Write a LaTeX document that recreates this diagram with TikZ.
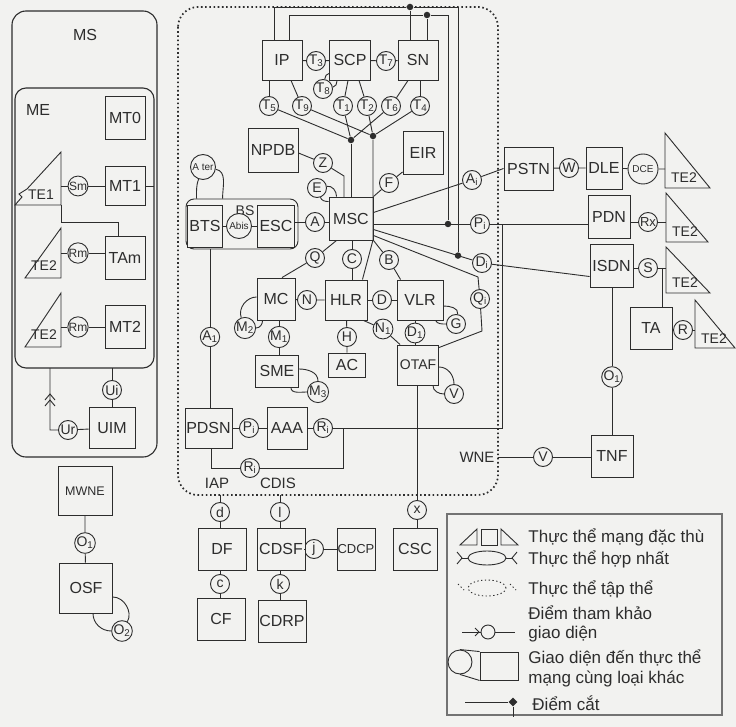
\documentclass[tikz,border=0pt]{standalone}
\usepackage{fontspec}
\setmainfont{Liberation Sans}
\usepackage{xcolor}
\usepackage{tikz}
\usetikzlibrary{positioning,shapes.geometric}
\definecolor{ink}{RGB}{45,45,45}
\definecolor{paper}{RGB}{242,242,240}

\begin{document}
\begin{tikzpicture}[
    x=1pt, y=-1pt, line width=0.9pt, color=ink,
    ent/.style={rectangle, draw, fill=paper, inner sep=0pt, font=\fontsize{16}{16}\selectfont},
    ifc/.style={circle, draw, fill=paper, inner sep=0pt, minimum size=19pt, font=\fontsize{14}{14}\selectfont},
    cutpt/.style={circle, fill, inner sep=0pt, minimum size=6.5pt},
    lbl/.style={inner sep=0pt, font=\fontsize{15}{15}\selectfont},
    tetext/.style={inner sep=0pt, font=\fontsize{14}{14}\selectfont},
    legtext/.style={anchor=west, inner sep=0pt, font=\fontsize{17}{17}\selectfont},
    grp/.style={draw, line width=1.1pt, rounded corners=14pt},
    collective/.style={draw, line width=1.7pt, dash pattern=on 1.6pt off 2.6pt, rounded corners=20pt}
  ]
    \fill[paper] (0,0) rectangle (736,727);
    \useasboundingbox (0,0) rectangle (736,727);

    % mobile station
    \draw[grp] (12,11) rectangle (157,457);
    \draw[grp, rounded corners=11pt] (15,88) rectangle (154,368);
    \node[lbl, font=\fontsize{16}{16}\selectfont] (mslbl) at (85,35) {MS};
    \node[lbl, font=\fontsize{16}{16}\selectfont] (melbl) at (38,110) {ME};

    \node[ent, minimum width=40, minimum height=43] (mt0) at (125,118) {MT0};
    \node[ent, minimum width=40, minimum height=39] (mt1) at (125,186) {MT1};
    \node[ent, minimum width=40, minimum height=43] (tam) at (125,258) {TAm};
    \node[ent, minimum width=40, minimum height=43] (mt2) at (125,327) {MT2};
    \node[ent, minimum width=46, minimum height=41] (uim) at (112,428) {UIM};

    \node[ifc, font=\fontsize{12}{12}\selectfont] (smif)  at (78,186) {Sm};
    \node[ifc, font=\fontsize{12}{12}\selectfont] (rm1if) at (78,253) {Rm};
    \node[ifc, font=\fontsize{12}{12}\selectfont] (rm2if) at (78,327) {Rm};
    \node[ifc] (uiif) at (112,390) {Ui};
    \node[ifc] (urif) at (68,430) {Ur};

    \draw (61,152) -- (61,205) -- (15,205) -- (22,197) -- (19,194) -- (27,189) -- cycle;
    \draw (61,228) -- (61,278) -- (25,278) -- cycle;
    \draw (61,293) -- (61,347) -- (25,347) -- cycle;
    \node[tetext] (te1) at (41,195) {TE1};
    \node[tetext] (te2l1) at (44,266) {TE2};
    \node[tetext] (te2l2) at (44,335) {TE2};

    \coordinate (te1p) at (61,186);
    \coordinate (te1b) at (61,205);
    \coordinate (te2l1p) at (61,253);
    \coordinate (te2l2p) at (61,327);
    \coordinate (mestub) at (154,186);
    \coordinate (mebot) at (112,368);
    \coordinate (urturn) at (50,430);
    \coordinate (mebotl) at (50,368);

    \draw (te1p) -- (smif) -- (mt1) -- (mestub);
    \draw (te1b) -- (61,222) -| ([xshift=-7pt]tam.north);
    \draw (te2l1p) -- (rm1if) -- (rm1if -| tam.west);
    \draw (te2l2p) -- (rm2if) -- (mt2);
    \draw (mebot) -- (uiif) -- (uim);
    \draw (uim) -- (urif) -- (urturn) -- (mebotl);
    \draw (45,400) -- (50,394) -- (55,400);
    \draw (45,406) -- (50,400) -- (55,406);

    \node[ent, minimum width=54, minimum height=49, font=\fontsize{12.5}{12.5}\selectfont] (mwne) at (85,491) {MWNE};
    \node[ifc] (o1mw) at (85,543) {O\textsubscript{1}};
    \node[ent, minimum width=53, minimum height=50] (osf) at (86,588) {OSF};
    \node[ifc] (o2if) at (122,631) {O\textsubscript{2}};
    \draw (mwne) -- (o1mw) -- (osf);
    \draw ([xshift=7pt]osf.south) to[out=-90,in=180] (o2if);
    \draw (o2if) to[out=60,in=0] ([yshift=-9pt]osf.east);

    % collective entity
    \draw[collective] (178,7) rectangle (498,495);

    \node[ent, minimum width=40, minimum height=40] (ip)  at (282,60) {IP};
    \node[ent, minimum width=41, minimum height=40] (scp) at (350,60) {SCP};
    \node[ent, minimum width=40, minimum height=40] (sn)  at (418,60) {SN};
    \node[ifc] (t3) at (316,61) {T\textsubscript{3}};
    \node[ifc] (t7) at (386,61) {T\textsubscript{7}};
    \node[ifc] (t8) at (323,89) {T\textsubscript{8}};
    \node[ifc] (t5) at (269,106) {T\textsubscript{5}};
    \node[ifc] (t9) at (302,106) {T\textsubscript{9}};
    \node[ifc] (t1) at (343,106) {T\textsubscript{1}};
    \node[ifc] (t2) at (367,106) {T\textsubscript{2}};
    \node[ifc] (t6) at (391,106) {T\textsubscript{6}};
    \node[ifc] (t4) at (420,106) {T\textsubscript{4}};
    \node[cutpt] (j1) at (351,140) {};
    \node[cutpt] (j2) at (373,136) {};

    \draw (ip) -- (t3) -- (scp);
    \draw (scp) -- (t7) -- (sn);
    \draw ([yshift=7pt]scp.south west) to[out=180,in=80] (t8);
    \draw (t8) to[out=10,in=-90] ([xshift=8pt]scp.south west);
    \draw (ip.south -| t5) -- (t5);
    \draw ([xshift=9pt]ip.south) -- (t9);
    \draw ([xshift=-2pt]scp.south) -- (t1);
    \draw ([xshift=9pt]scp.south) -- (t2);
    \draw ([xshift=-10pt]sn.south) -- (t6);
    \draw (sn.south -| t4) -- (t4);
    \draw (t5) -- (j1);
    \draw (t1) -- (j1);
    \draw (t6) -- (j1);
    \draw (t9) -- (j2);
    \draw (t2) -- (j2);
    \draw (t4) -- (j2);

    \node[ent, minimum width=50, minimum height=44] (npdb) at (273,150) {NPDB};
    \node[ent, minimum width=40, minimum height=43] (eir)  at (423,153) {EIR};
    \node[ent, minimum width=44, minimum height=43] (msc)  at (351,218.5) {MSC};
    \node[ifc] (zif) at (323,163) {Z};
    \node[ifc] (eif) at (317,188) {E};
    \node[ifc] (fif) at (389,183) {F};
    \node[ifc] (aif) at (315,222) {A};

    \draw (j1) -- (j1 |- msc.north);
    \draw ([yshift=-3pt]npdb.east) -- (zif) -- (344,176) -- (344,197);
    \draw ([yshift=-5pt]msc.north west) to[out=180,in=-70] (eif);
    \draw (eif) to[out=10,in=90] ([xshift=8pt]msc.north west);
    \draw ([yshift=3pt]eir.south west) -- (fif) -- (msc.north east);

    % base station
    \node[draw, rounded corners=8pt, minimum width=112, minimum height=50, inner sep=0pt] (bs) at (242,224) {};
    \node[lbl, font=\fontsize{14}{14}\selectfont] (bslbl) at (245,211) {BS};
    \node[ent, minimum width=35, minimum height=42] (bts) at (205,226) {BTS};
    \node[ent, minimum width=37, minimum height=42] (esc) at (276,226) {ESC};
    \node[ifc, minimum size=25, font=\fontsize{10}{10}\selectfont] (abis) at (239,226) {Abis};
    \node[ifc, minimum size=25, font=\fontsize{10}{10}\selectfont] (ater) at (203,167) {A ter};
    \draw (bts) -- (abis) -- (esc);
    \draw (esc.east |- aif) -- (aif) -- (aif -| msc.west);
    \draw ([xshift=11pt]bs.north west) to[out=90,in=250] (ater);
    \draw (ater) to[out=-10,in=90] ([xshift=37pt]bs.north west);

    \node[ent, minimum width=38, minimum height=42] (mc)  at (276,299) {MC};
    \node[ent, minimum width=42, minimum height=40] (hlr) at (346,300) {HLR};
    \node[ent, minimum width=46, minimum height=40] (vlr) at (420,300) {VLR};
    \node[ent, minimum width=43, minimum height=32] (sme) at (277,371) {SME};
    \node[ent, minimum width=37, minimum height=24] (ac)  at (347,365) {AC};
    \node[ent, minimum width=41, minimum height=40, font=\fontsize{14}{14}\selectfont] (otaf) at (418,365) {OTAF};

    \draw (j2) -- (373,240) -- ([xshift=-5pt]hlr.north east);

    \node[ifc] (qif)  at (315,258) {Q};
    \node[ifc] (cif)  at (352,259) {C};
    \node[ifc] (bif)  at (389,260) {B};
    \node[ifc] (nif)  at (307,300) {N};
    \node[ifc] (dif)  at (382,300) {D};
    \node[ifc] (gif)  at (456,324) {G};
    \node[ifc] (n1if) at (383,329) {N\textsubscript{1}};
    \node[ifc] (d1if) at (415,333) {D\textsubscript{1}};
    \node[ifc] (hif)  at (347,337) {H};
    \node[ifc] (m2if) at (245,328) {M\textsubscript{2}};
    \node[ifc] (m1if) at (279,337) {M\textsubscript{1}};
    \node[ifc] (m3if) at (318,392) {M\textsubscript{3}};
    \node[ifc] (vif)  at (454,394) {V};

    \draw ([xshift=8pt]msc.south west) -- (qif) -- ([xshift=6pt]mc.north);
    \draw (msc.south -| cif) -- (cif) -- (hlr.north -| cif);
    \draw (msc.south east) -- (bif) -- ([xshift=4pt]vlr.north west);
    \draw (mc) -- (nif) -- (hlr);
    \draw (hlr) -- (dif) -- (vlr);
    \draw ([xshift=-4pt]hlr.south east) -- (n1if) -- ([xshift=3pt]otaf.north west);
    \draw (vlr.south -| d1if) -- (d1if) -- (otaf.north -| d1if);
    \draw (hlr) -- (hif) -- (ac);
    \draw (mc.south -| m1if) -- (m1if) -- (sme.north -| m1if);
    \draw ([yshift=2pt]mc.west) to[out=180,in=110] (m2if);
    \draw (m2if) to[out=0,in=-90] ([xshift=6pt]mc.south west);
    \draw ([yshift=2pt]sme.east) to[out=0,in=90] (m3if);
    \draw ([xshift=-8pt]sme.south east) to[out=-90,in=180] (m3if);
    \draw ([yshift=-6pt]vlr.east) to[out=0,in=80] (gif);
    \draw ([xshift=-8pt]vlr.south east) to[out=-60,in=180] (gif);
    \draw ([yshift=-2pt]otaf.east) to[out=0,in=90] (vif);
    \draw ([xshift=-6pt]otaf.south east) to[out=-90,in=180] (vif);

    % packet data part
    \node[ent, minimum width=47, minimum height=40] (pdsn) at (208.5,428) {PDSN};
    \node[ent, minimum width=40, minimum height=42] (aaa)  at (287,428) {AAA};
    \node[ifc] (a1if) at (210,337) {A\textsubscript{1}};
    \node[ifc] (pif)  at (249,428) {P\textsubscript{i}};
    \node[ifc] (riif) at (323,428) {R\textsubscript{i}};
    \node[ifc] (rif)  at (250,468) {R\textsubscript{i}};
    \coordinate (rjoin) at (343,428);
    \coordinate (rcorner) at (502,428);
    \coordinate (pdnjoin) at (502,224);

    \draw (bs.south -| a1if) -- (a1if) -- (pdsn.north -| a1if);
    \draw (pdsn) -- (pif) -- (aaa) -- (riif) -- (rcorner) -- (pdnjoin);
    \draw ([xshift=3pt]pdsn.south) |- (rif);
    \draw (rif) -| (rjoin);

    % below the collective entity
    \coordinate (iap) at (220,495);
    \coordinate (cdis) at (280,495);
    \node[lbl] (iaplbl) at (217,483) {IAP};
    \node[lbl] (cdislbl) at (278,483) {CDIS};
    \node[ifc] (dsmall) at (220,512) {d};
    \node[ifc] (csmall) at (220,584) {c};
    \node[ifc] (lsmall) at (280,512) {l};
    \node[ifc] (ksmall) at (280,584) {k};
    \node[ifc] (jsmall) at (314,549) {j};
    \node[ifc] (xsmall) at (417,510) {x};
    \node[ent, minimum width=48, minimum height=42] (df)   at (222,549) {DF};
    \node[ent, minimum width=48, minimum height=42] (cf)   at (221,619) {CF};
    \node[ent, minimum width=48, minimum height=42] (cdsf) at (281,549) {CDSF};
    \node[ent, minimum width=48, minimum height=42] (cdrp) at (282,621) {CDRP};
    \node[ent, minimum width=38, minimum height=42, font=\fontsize{13}{13}\selectfont] (cdcp) at (356,549) {CDCP};
    \node[ent, minimum width=44, minimum height=42] (csc)  at (415,549) {CSC};

    \draw (iap) -- (dsmall) -- (df.north -| dsmall);
    \draw (df.south -| csmall) -- (csmall) -- (cf.north -| csmall);
    \draw (cdis) -- (lsmall) -- (cdsf.north -| lsmall);
    \draw (cdsf.south -| ksmall) -- (ksmall) -- (cdrp.north -| ksmall);
    \draw (cdsf) -- (jsmall) -- (cdcp);
    \draw (otaf.south -| xsmall) -- (xsmall) -- (csc.north -| xsmall);

    % external networks
    \node[ifc] (aiif) at (472,180) {A\textsubscript{i}};
    \node[ifc] (piif) at (480,224) {P\textsubscript{i}};
    \node[ifc] (diif) at (482,263) {D\textsubscript{i}};
    \node[ifc] (qiif) at (480,299) {Q\textsubscript{i}};
    \coordinate (qbend1) at (478,277);
    \coordinate (qbend2) at (482,331);

    \node[ent, minimum width=49, minimum height=43] (pstn) at (528.5,168.5) {PSTN};
    \node[ent, minimum width=36, minimum height=42] (dle)  at (604,168) {DLE};
    \node[ent, minimum width=42, minimum height=43] (pdn)  at (609,217) {PDN};
    \node[ent, minimum width=43, minimum height=43] (isdn) at (611.5,265.5) {ISDN};
    \node[ent, minimum width=42, minimum height=42] (ta)   at (651,328) {TA};
    \node[ent, minimum width=42, minimum height=42] (tnf)  at (612,456) {TNF};
    \node[ifc] (wif)  at (569,168) {W};
    \node[ifc, minimum size=30, font=\fontsize{10}{10}\selectfont] (dceif) at (643,169) {DCE};
    \node[ifc, font=\fontsize{13}{13}\selectfont] (rxif) at (648,222) {Rx};
    \node[ifc] (sif)  at (648,268) {S};
    \node[ifc] (rtaif) at (683,330) {R};
    \node[ifc] (o1if) at (612,377) {O\textsubscript{1}};
    \node[ifc] (vtnf) at (543,457) {V};
    \node[lbl] (wnelbl) at (477,457) {WNE};

    \draw (665,133) -- (665,188) -- (710,188) -- cycle;
    \draw (666,193) -- (666,242) -- (708,242) -- cycle;
    \draw (666,247) -- (666,293) -- (710,293) -- cycle;
    \draw (695,300) -- (695,348) -- (735,348) -- cycle;
    \node[tetext] (te2r1) at (684,178) {TE2};
    \node[tetext] (te2r2) at (685,232) {TE2};
    \node[tetext] (te2r3) at (685,283) {TE2};
    \node[tetext] (te2r4) at (714,339) {TE2};
    \coordinate (te2r1p) at (665,169);
    \coordinate (te2r2p) at (666,222);
    \coordinate (te2r3p) at (666,268);
    \coordinate (te2r4p) at (695,330);
    \coordinate (tajoin) at (662,268);
    \coordinate (wne) at (498,457);

    \draw ([yshift=6pt]msc.east) -- (aiif) -- (pstn.west);
    \draw (piif -| msc.east) -- (piif) -- (piif -| pdn.west);
    \draw ([yshift=-11pt]msc.east) -- (diif) -- ([yshift=-11pt]isdn.west);
    \draw ([yshift=-17pt]msc.east) -- (qbend1) -- (qiif) -- (qbend2) -- ([yshift=-3pt]otaf.north east);
    \draw (pstn) -- (wif) -- (dle) -- (dceif) -- (te2r1p);
    \draw (rxif -| pdn.east) -- (rxif) -- (te2r2p);
    \draw (sif -| isdn.east) -- (sif) -- (te2r3p);
    \draw (tajoin) -- (ta.north -| tajoin);
    \draw (rtaif -| ta.east) -- (rtaif) -- (te2r4p);
    \draw (isdn.south -| o1if) -- (o1if) -- (tnf.north -| o1if);
    \draw (wne) -- (vtnf) -- (vtnf -| tnf.west);

    % lines over the top
    \node[cutpt] (cuta) at (410,7) {};
    \node[cutpt] (cutb) at (427,15) {};
    \node[cutpt] (cutp) at (448,224) {};
    \node[cutpt] (cutd) at (458,255.6) {};
    \draw ([xshift=-8pt]ip.north) |- (cuta) -| (cutd);
    \draw ([xshift=7pt]ip.north) |- (cutb) -| (cutp);
    \draw ([xshift=-8pt]sn.north) -- (cuta);
    \draw ([xshift=9pt]sn.north) -- (cutb);

    % legend
    \node[draw=black!55, line width=1.6pt, minimum width=275, minimum height=201, inner sep=0pt] (legend) at (584.5,614.5) {};
    \draw (477,529) -- (477,545) -- (460,545) -- cycle;
    \draw (481,529) rectangle (497,545);
    \draw (501,529) -- (501,545) -- (518,545) -- cycle;
    \node[legtext] (leg1) at (528,537) {Thực thể mạng đặc thù};

    \draw (487,558) ellipse [x radius=19pt, y radius=7pt];
    \draw (468,558) -- (462,558);
    \draw (457,552) -- (462,558) -- (457,564);
    \draw (506,558) -- (512,558);
    \draw (517,552) -- (512,558) -- (517,564);
    \node[legtext] (leg2) at (528,559) {Thực thể hợp nhất};

    \draw[dash pattern=on 1.3pt off 2.5pt] (487,588) ellipse [x radius=19pt, y radius=8pt];
    \draw[dash pattern=on 1.3pt off 2.5pt] (458,584) -- (464,590);
    \draw[dash pattern=on 1.3pt off 2.5pt] (510,584) -- (516,590);
    \node[legtext] (leg3) at (528,589) {Thực thể tập thể};

    \node[draw, circle, minimum size=14pt, inner sep=0pt] (legref) at (488,632) {};
    \coordinate (legrefl) at (462,632);
    \coordinate (legrefr) at (515,632);
    \draw (legrefl) -- (legref) -- (legrefr);
    \draw (475,628) -- (479,632) -- (475,636);
    \node[legtext] (leg4a) at (528,613) {Điểm tham khảo};
    \node[legtext] (leg4b) at (528,634) {giao diện};

    \node[draw, circle, minimum size=24pt, inner sep=0pt] (legcirc) at (460,662) {};
    \node[draw, minimum width=38, minimum height=28, inner sep=0pt] (legsq) at (499,666) {};
    \draw (legcirc.north) -- (legsq.north west);
    \draw (legcirc.south) -- (legsq.south west);
    \node[legtext] (leg5a) at (528,658) {Giao diện đến thực thể};
    \node[legtext] (leg5b) at (528,679) {mạng cùng loại khác};

    \coordinate (legcutl) at (465,702);
    \coordinate (legcutb) at (513,717);
    \node[diamond, fill, inner sep=0pt, minimum size=9pt] (legcut) at (513,702) {};
    \draw (legcutl) -- (legcut) -- (legcutb);
    \node[legtext] (leg6) at (532,703) {Điểm cắt};
  \end{tikzpicture}
\end{document}
